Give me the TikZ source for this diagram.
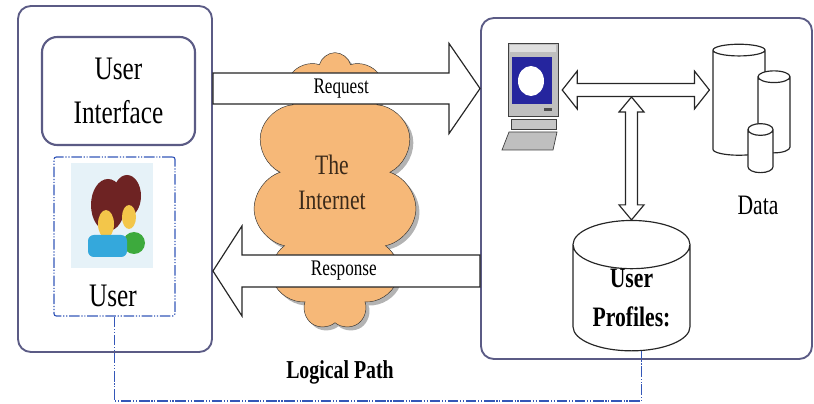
\documentclass[tikz,border=0pt]{standalone}
\usepackage{fontspec}
\setmainfont{Liberation Serif}[FakeStretch=0.77]
\usetikzlibrary{shapes.geometric,shapes.symbols,shadows,calc,positioning}

\definecolor{frame}{HTML}{5B5B85}
\definecolor{pathblue}{HTML}{3457B8}
\definecolor{cloudorange}{HTML}{F6B878}
\definecolor{inettext}{HTML}{3B2A1A}
\definecolor{screenblue}{HTML}{25259E}
\definecolor{iconbg}{HTML}{E6F2F8}
\definecolor{hair}{HTML}{6E2323}
\definecolor{face}{HTML}{F3C64A}
\definecolor{shirtblue}{HTML}{34A8DC}
\definecolor{shirtgreen}{HTML}{3DAA3D}

\newcommand{\uifont}{\fontsize{28}{38}\selectfont}
\newcommand{\arrowfont}{\fontsize{19}{22}\selectfont}
\newcommand{\inetfont}{\fontsize{24}{30}\selectfont}
\newcommand{\datafont}{\fontsize{24}{30}\selectfont}
\newcommand{\dbfont}{\bfseries\fontsize{24}{33}\selectfont}
\newcommand{\pathfont}{\bfseries\fontsize{22}{26}\selectfont}

\tikzset{
  panel/.style={draw=frame, line width=1.6pt, rounded corners=11pt},
  userframe/.style={draw=pathblue, line width=1pt, rounded corners=2pt,
    dash pattern=on 9pt off 1.5pt on 1pt off 1.5pt on 1pt off 1.5pt},
  dashdotdot/.style={draw=pathblue, line width=1pt,
    dash pattern=on 9pt off 1.5pt on 1pt off 1.5pt on 1pt off 1.5pt},
  fat/.style={draw=black!85, fill=white, line width=1pt, line join=miter},
  drum/.style={cylinder, shape border rotate=90, draw=black!85, fill=white,
    line width=1pt, shape aspect=1.5},
}

\begin{document}
\begin{tikzpicture}[x=0.03cm, y=0.03cm]
  \useasboundingbox (0,0) rectangle (814,-404);

  % client side
  \node[panel, minimum width=5.82cm, minimum height=10.38cm] (client) at (115,-179) {};
  \node[panel, rounded corners=13pt, line width=1.8pt, minimum width=4.59cm,
    minimum height=3.24cm, font=\uifont, align=center] (ui) at (118.5,-91) {User\\Interface};
  \node[userframe, minimum width=3.63cm, minimum height=4.77cm] (userbox) at (114.5,-236.5) {};
  \node[font=\uifont] (user) at (113,-296) {User};

  % two little people
  \fill[iconbg] (71,-163) rectangle (153,-268);
  \fill[hair] (108,-205) ellipse (17 and 26);
  \fill[hair] (127,-196) ellipse (14 and 21);
  \fill[face] (106,-224) ellipse (8 and 14);
  \fill[face] (129,-217) ellipse (7 and 12);
  \fill[shirtgreen] (134,-243) circle (11);
  \fill[shirtblue, rounded corners=5pt] (88,-235) rectangle (127,-257);

  % server side
  \node[panel, minimum width=9.93cm, minimum height=10.23cm] (server) at (646.5,-188.5) {};

  % the cloud
  \node[cloud, cloud puffs=11, aspect=0.6, draw=black!80, fill=cloudorange,
    drop shadow={shadow xshift=3pt, shadow yshift=-3pt, opacity=0.6},
    minimum width=4.9cm, minimum height=8.3cm] (inet) at (335,-191) {};
  \node[font=\inetfont, text=inettext, align=center] (inetlabel) at (332,-182) {The\\Internet};

  % request and response
  \coordinate (reqA) at (client.east |- 0,-88.5);
  \coordinate (reqB) at (server.west |- 0,-88.5);
  \draw[fat] ($(reqA)+(0,15.5)$) -- ($(reqB)+(-31,15.5)$) -- ++(0,29.5) -- (reqB)
    -- ++(-31,-45) -- ++(0,29.5) -- ($(reqA)+(0,-15.5)$) -- cycle;
  \node[font=\arrowfont] (reqlabel) at ($(reqA)!0.48!(reqB)$) {Request};

  \coordinate (resA) at (server.west |- 0,-271);
  \coordinate (resB) at (client.east |- 0,-271);
  \draw[fat] ($(resA)+(0,16)$) -- ($(resB)+(29,16)$) -- ++(0,29) -- (resB)
    -- ++(29,-45) -- ++(0,29) -- ($(resA)+(0,-16)$) -- cycle;
  \node[font=\arrowfont] (reslabel) at ($(resA)!0.51!(resB)$) {Response};

  % computer
  \node[minimum width=1.89cm, minimum height=3.21cm] (pc) at (526.5,-96.5) {};
  \filldraw[fill=gray!50, draw=black!75, line width=0.6pt] (508,-43) rectangle (558,-116);
  \fill[gray!25] (510,-45) rectangle (556,-52);
  \fill[screenblue] (512,-57) rectangle (552,-104);
  \fill[white] (531,-81) ellipse (13 and 15);
  \fill[black!70] (544,-108) rectangle (552,-111);
  \filldraw[fill=gray!45, draw=black!75, line width=0.6pt] (511,-119) rectangle (556,-129);
  \filldraw[fill=gray!50, draw=black!75, line width=0.6pt]
    (502,-150) -- (509,-132) -- (557,-132) -- (553,-150) -- cycle;

  % data stores
  \node[drum, minimum width=1.56cm, minimum height=3.33cm] (db1) at (739,-104.5) {};
  \node[drum, minimum width=0.96cm, minimum height=2.46cm] (db2) at (774,-117) {};
  \node[drum, minimum width=0.75cm, minimum height=1.47cm] (db3) at (760.5,-153.5) {};
  \node[font=\datafont] (data) at (758,-205) {Data};

  \node[drum, shape aspect=0.62, inner sep=0pt, minimum width=3.51cm, minimum height=2.97cm,
    font=\dbfont, align=center] (profiles) at (631.5,-298) {User\\Profiles:};

  % links inside the server
  \coordinate (busL) at ($(pc.east |- 0,-90)+(4,0)$);
  \coordinate (busR) at ($(db1.west |- 0,-90)+(-3,0)$);
  \draw[fat] (busL) -- ++(15,19) -- ++(0,-12.5) -- ($(busR)+(-15,6.5)$) -- ++(0,12.5)
    -- (busR) -- ++(-15,-19) -- ++(0,12.5) -- ($(busL)+(15,-6.5)$) -- ++(0,-12.5) -- cycle;

  \coordinate (vT) at (profiles.north |- 0,-97);
  \coordinate (vB) at (profiles.north);
  \draw[fat] (vT) -- ++(12.5,-15) -- ++(-6.5,0) -- ($(vB)+(6,15)$) -- ++(6.5,0)
    -- (vB) -- ++(-12.5,15) -- ++(6.5,0) -- ($(vT)+(-6,-15)$) -- ++(-6.5,0) -- cycle;

  % logical path
  \draw[dashdotdot] (userbox.south) -- (userbox.south |- 0,-401) -| ($(profiles.south)+(10,0)$);
  \node[font=\pathfont] (logical) at (340,-372) {Logical Path};
\end{tikzpicture}
\end{document}
